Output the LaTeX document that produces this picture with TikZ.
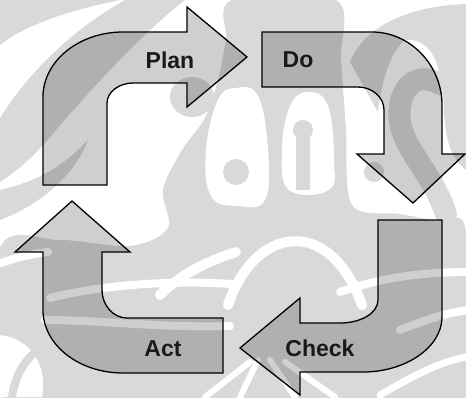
\documentclass[tikz,border=0pt]{standalone}
\usepackage{fontspec}
\setmainfont{Liberation Sans}
\begin{document}
\begin{tikzpicture}[x=1pt,y=-1pt,
  wm/.style={fill=wmgray,draw=none},
  wl/.style={draw=white,line cap=round,fill=none},
  gl/.style={draw=wmgray,line cap=round,fill=none},
  cyclearrow/.style={draw=black,line width=1.3pt,line join=miter,
    fill=black,fill opacity=0.19},
  lbl/.style={font=\fontsize{23}{23}\selectfont\bfseries,text=black!90}]
\definecolor{wmgray}{HTML}{D9D9D9}
\useasboundingbox (0,0) rectangle (466,397);
\fill[white] (0,0) rectangle (466,397);

% --- ornamental background ---
% upper left sweeps
\fill[wm] (0,0) -- (120,0) .. controls (70,10) and (25,25) .. (0,45) -- cycle;
\fill[wm] (0,118) .. controls (30,70) and (75,28) .. (125,0) -- (185,0)
  .. controls (140,35) and (90,90) .. (43,145) .. controls (30,160) and (15,172) .. (0,182) -- cycle;
\fill[wm] (0,190) .. controls (35,182) and (62,168) .. (88,140)
  .. controls (75,175) and (40,205) .. (0,220) -- cycle;
% central mass
\fill[wm] plot[smooth cycle,tension=0.55] coordinates {
  (232,0) (336,0) (341,60) (346,130) (352,205) (400,214) (440,222)
  (466,232) (466,397) (0,397) (0,248) (60,240) (130,246) (168,228)
  (163,190) (182,150) (205,118) (218,80) (226,40)};
\fill[wm] (192,97) ellipse (22 and 20);
% right sweep and swirl
\fill[wm] (350,62) .. controls (365,25) and (410,6) .. (466,4) -- (466,170)
  .. controls (452,160) and (445,140) .. (444,110)
  .. controls (442,60) and (430,38) .. (405,40)
  .. controls (390,52) and (382,80) .. (378,112) -- cycle;
\draw[gl,line width=22] (440,84) .. controls (412,68) and (396,95) .. (400,122)
  .. controls (405,152) and (432,172) .. (446,214);
% mask eyes
\fill[white] plot[smooth cycle,tension=0.7] coordinates {
  (236,88) (258,96) (268,150) (265,200) (238,206) (211,196) (206,150) (218,100)};
\fill[wm] (236,172) circle (13);
\fill[white] plot[smooth cycle,tension=0.7] coordinates {
  (308,92) (328,106) (334,160) (329,190) (289,190) (282,150) (290,106)};
\fill[wm] (296,190) -- (296,132) -- (310,132) -- (310,190) -- cycle;
\fill[wm] (303,130) circle (10);
\fill[wm] (374,172) circle (10);
% arch and lower bands
\draw[wl,line width=10] (228,305) .. controls (255,225) and (330,215) .. (362,305);
\draw[wl,line width=10] (236,252) .. controls (205,262) and (180,275) .. (160,295);
\draw[wl,line width=8] (-5,265) .. controls (15,258) and (30,254) .. (48,252);
\draw[wl,line width=8] (50,298) .. controls (100,285) and (170,280) .. (232,284);
\draw[wl,line width=8] (45,320) .. controls (100,320) and (160,328) .. (230,326);
\draw[wl,line width=8] (340,292) .. controls (380,278) and (420,272) .. (470,272);
\draw[wl,line width=8] (400,330) .. controls (430,318) and (450,312) .. (470,310);
\fill[white] (0,335) .. controls (30,338) and (48,365) .. (42,397) -- (0,397) -- cycle;
\draw[gl,line width=8] (12,397) .. controls (15,375) and (25,360) .. (38,350);
\draw[wl,line width=6] (205,397) -- (250,362);
\draw[wl,line width=6] (240,397) -- (258,360);
\draw[wl,line width=6] (295,397) -- (270,360);
\draw[wl,line width=6] (335,397) -- (285,362);
\draw[wl,line width=7] (380,395) .. controls (420,372) and (440,362) .. (470,356);

% --- PDCA arrows ---
\path[cyclearrow] (43,185) -- (43,97)
  .. controls (43,61) and (79,32) .. (123,32) -- (187,32) -- (187,7)
  -- (247,57) -- (187,107) -- (187,83) -- (133,83)
  .. controls (119,83) and (107,92) .. (107,103) -- (107,185) -- cycle;
\path[cyclearrow] (262,32) -- (372,32)
  .. controls (410,32) and (442,65) .. (442,105) -- (442,154) -- (465,154)
  -- (413,203) -- (357,154) -- (384,154) -- (384,110)
  .. controls (384,97) and (372,87) .. (358,87) -- (262,87) -- cycle;
\path[cyclearrow] (378,220) -- (442,220) -- (442,317)
  .. controls (442,347) and (406,372) .. (363,372) -- (300,372) -- (300,395)
  -- (240,348) -- (300,298) -- (300,323) -- (340,323)
  .. controls (361,323) and (378,313) .. (378,300) -- cycle;
\path[cyclearrow] (223,373) -- (123,373)
  .. controls (79,373) and (43,345) .. (43,310) -- (43,252) -- (15,252)
  -- (72,201) -- (130,252) -- (102,252) -- (102,290)
  .. controls (102,305) and (113,318) .. (127,318) -- (223,318) -- cycle;

\node[lbl] (plan) at (170,60) {Plan};
\node[lbl] (do) at (298,60) {Do};
\node[lbl] (check) at (320,348) {Check};
\node[lbl] (act) at (163,349) {Act};
\end{tikzpicture}
\end{document}
